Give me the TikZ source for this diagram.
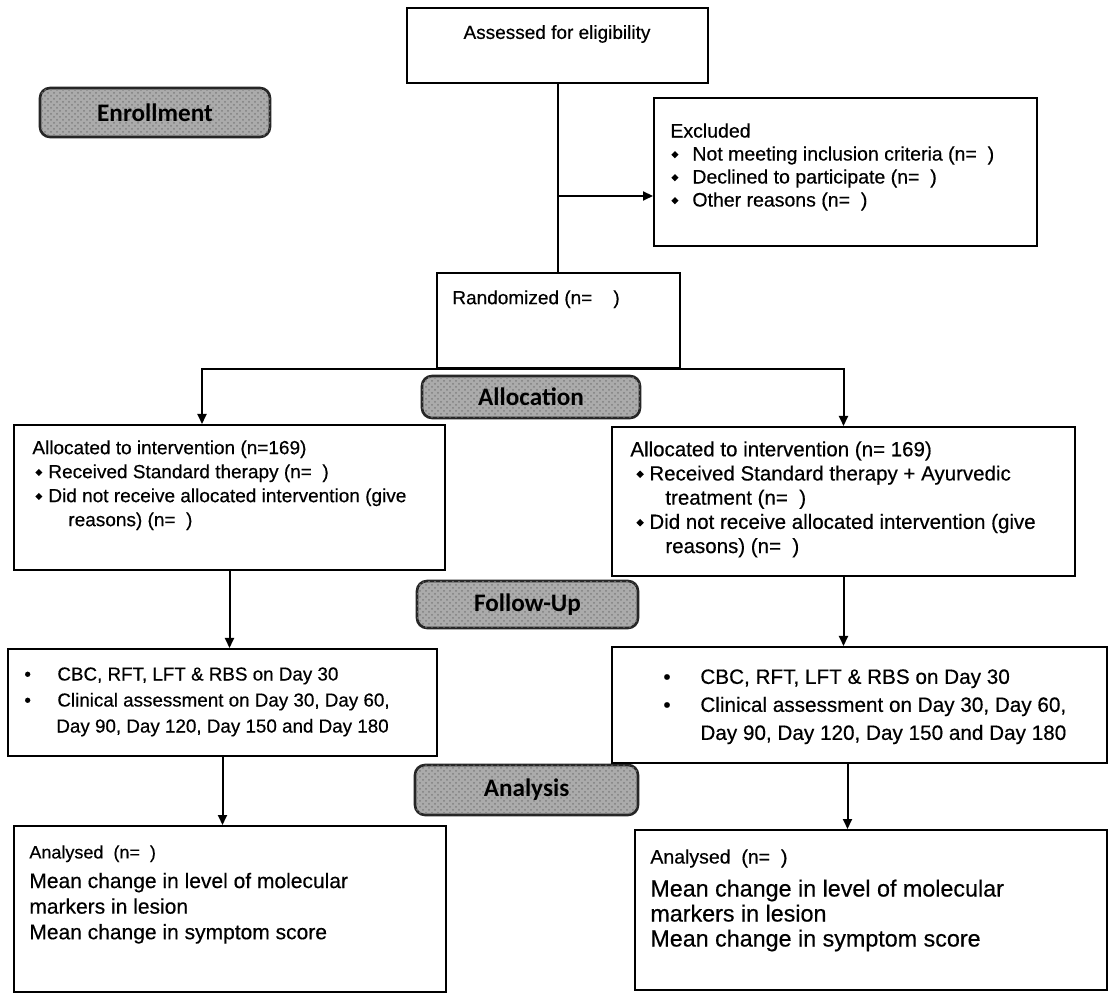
\documentclass[tikz,border=0pt]{standalone}
\usepackage{fontspec}
\setmainfont{Liberation Sans}[FakeBold=0.45]
\newfontfamily\labfont{Carlito}
\usetikzlibrary{arrows.meta,fit,patterns}
\newcommand{\dmd}{\raisebox{0.22ex}{\rotatebox{45}{\rule{0.26em}{0.26em}}}}
\begin{document}
\begin{tikzpicture}[x=0.5pt,y=-0.5pt,
  box/.style={draw=black, line width=1pt, inner sep=0pt},
  lab/.style={draw=black!85, line width=1.3pt, rounded corners=5pt, fill=black!33,
    postaction={pattern=crosshatch dots, pattern color=black!50},
    inner sep=0pt, font=\labfont\bfseries\fontsize{12.6pt}{14pt}\selectfont, text=black},
  txt/.style={anchor=north west, align=left, inner sep=0pt},
  ln/.style={line width=1pt},
  arr/.style={line width=1pt, -{Triangle[length=5pt,width=4.5pt]}}]
\fill[white] (0,0) rectangle (1109,999);
\useasboundingbox (0,0) rectangle (1109,999);

% phase labels
\node[lab, minimum width=115pt, minimum height=24.5pt] (lenr) at (155,112.5) {Enrollment};
\node[lab, minimum width=109pt, minimum height=21pt] (lall) at (531,397) {Allocation};
\node[lab, minimum width=110.5pt, minimum height=23.5pt] (lfol) at (527.5,604.5) {Follow-Up};
\node[lab, minimum width=111.5pt, minimum height=25pt] (lana) at (526.5,790) {Analysis};

% boxes
\node[box, fit={(407,8)(708,83)}] (asse) {};
\node[font=\fontsize{9.5pt}{11pt}\selectfont] (asset) at (557,34) {Assessed for eligibility};

\node[box, fit={(654,98)(1037,246)}] (excl) {};
\node[txt, font=\fontsize{9.75pt}{11.5pt}\selectfont] (exclt) at (670,123)
  {Excluded\\
   \makebox[11pt][l]{\hspace{0.5pt}\dmd}Not meeting inclusion criteria (n=\ \ )\\
   \makebox[11pt][l]{\hspace{0.5pt}\dmd}Declined to participate (n=\ \ )\\
   \makebox[11pt][l]{\hspace{0.5pt}\dmd}Other reasons (n=\ \ )};

\node[box, fit={(437,273)(680,368)}] (rand) {};
\node[txt, font=\fontsize{9.5pt}{11pt}\selectfont] (randt) at (452,290) {Randomized (n=\ \ \ \ )};

\node[box, fit={(14,425)(445,570)}] (allocL) {};
\node[txt, font=\fontsize{9.5pt}{12pt}\selectfont] (allocLt) at (32,440)
  {Allocated to intervention (n=169)\\
   \makebox[8pt][l]{\hspace{1.5pt}\dmd}Received Standard therapy (n=\ \ )\\
   \makebox[8pt][l]{\hspace{1.5pt}\dmd}Did not receive allocated intervention (give\\
   \hspace*{18pt}reasons) (n=\ \ )};

\node[box, fit={(612,427)(1075,576)}] (allocR) {};
\node[txt, font=\fontsize{10.25pt}{12.1pt}\selectfont] (allocRt) at (630,441)
  {Allocated to intervention (n= 169)\\
   \makebox[9.5pt][l]{\hspace{3pt}\dmd}Received Standard therapy + Ayurvedic\\
   \hspace*{17.5pt}treatment (n=\ \ )\\
   \makebox[9.5pt][l]{\hspace{3pt}\dmd}Did not receive allocated intervention (give\\
   \hspace*{17.5pt}reasons) (n=\ \ )};

\node[box, fit={(8,649)(437,756)}] (fuL) {};
\node[txt, font=\fontsize{9.4pt}{13pt}\selectfont] (fuLt) at (24,667)
  {\makebox[16.5pt][l]{\textbullet}CBC, RFT, LFT \& RBS on Day 30\\
   \makebox[16.5pt][l]{\textbullet}Clinical assessment on Day 30, Day 60,\\
   \hspace*{16pt}Day 90, Day 120, Day 150 and Day 180};

\node[box, fit={(612,647)(1107,763)}] (fuR) {};
\node[txt, font=\fontsize{10.35pt}{14pt}\selectfont] (fuRt) at (663,669)
  {\makebox[18.5pt][l]{\textbullet}CBC, RFT, LFT \& RBS on Day 30\\
   \makebox[18.5pt][l]{\textbullet}Clinical assessment on Day 30, Day 60,\\
   \hspace*{18.5pt}Day 90, Day 120, Day 150 and Day 180};

\node[box, fit={(14,826)(446,992)}] (anL) {};
\node[txt, font=\fontsize{10.5pt}{12.8pt}\selectfont] (anLt) at (29,845)
  {{\fontsize{9pt}{11pt}\selectfont Analysed\ \ (n=\ \ )}\\[2pt]
   Mean change in level of molecular\\
   markers in lesion\\
   Mean change in symptom score};

\node[box, fit={(635,830)(1107,990)}] (anR) {};
\node[txt, font=\fontsize{11.65pt}{12.5pt}\selectfont] (anRt) at (650,849)
  {{\fontsize{9.75pt}{11pt}\selectfont Analysed\ \ (n=\ \ )}\\[4pt]
   Mean change in level of molecular\\
   markers in lesion\\
   Mean change in symptom score};

% connectors
\draw[ln] (asse.south) -- (asse.south |- rand.north);
\coordinate (exin) at ([yshift=-12pt]excl.west);
\draw[arr] (asse.south |- exin) -- (exin);
\coordinate (aLin) at ([xshift=-13.75pt]allocL.north);
\draw[arr] (rand.south) -| (aLin);
\draw[arr] (rand.south) -| (allocR.north);
\draw[arr] (allocL.south) -- (allocL.south |- fuL.north);
\draw[arr] (allocR.south) -- (allocR.south |- fuR.north);
\draw[arr] (fuL.south) -- (fuL.south |- anL.north);
\coordinate (fuRout) at ([xshift=-6pt]fuR.south);
\draw[arr] (fuRout) -- (fuRout |- anR.north);
\end{tikzpicture}
\end{document}
